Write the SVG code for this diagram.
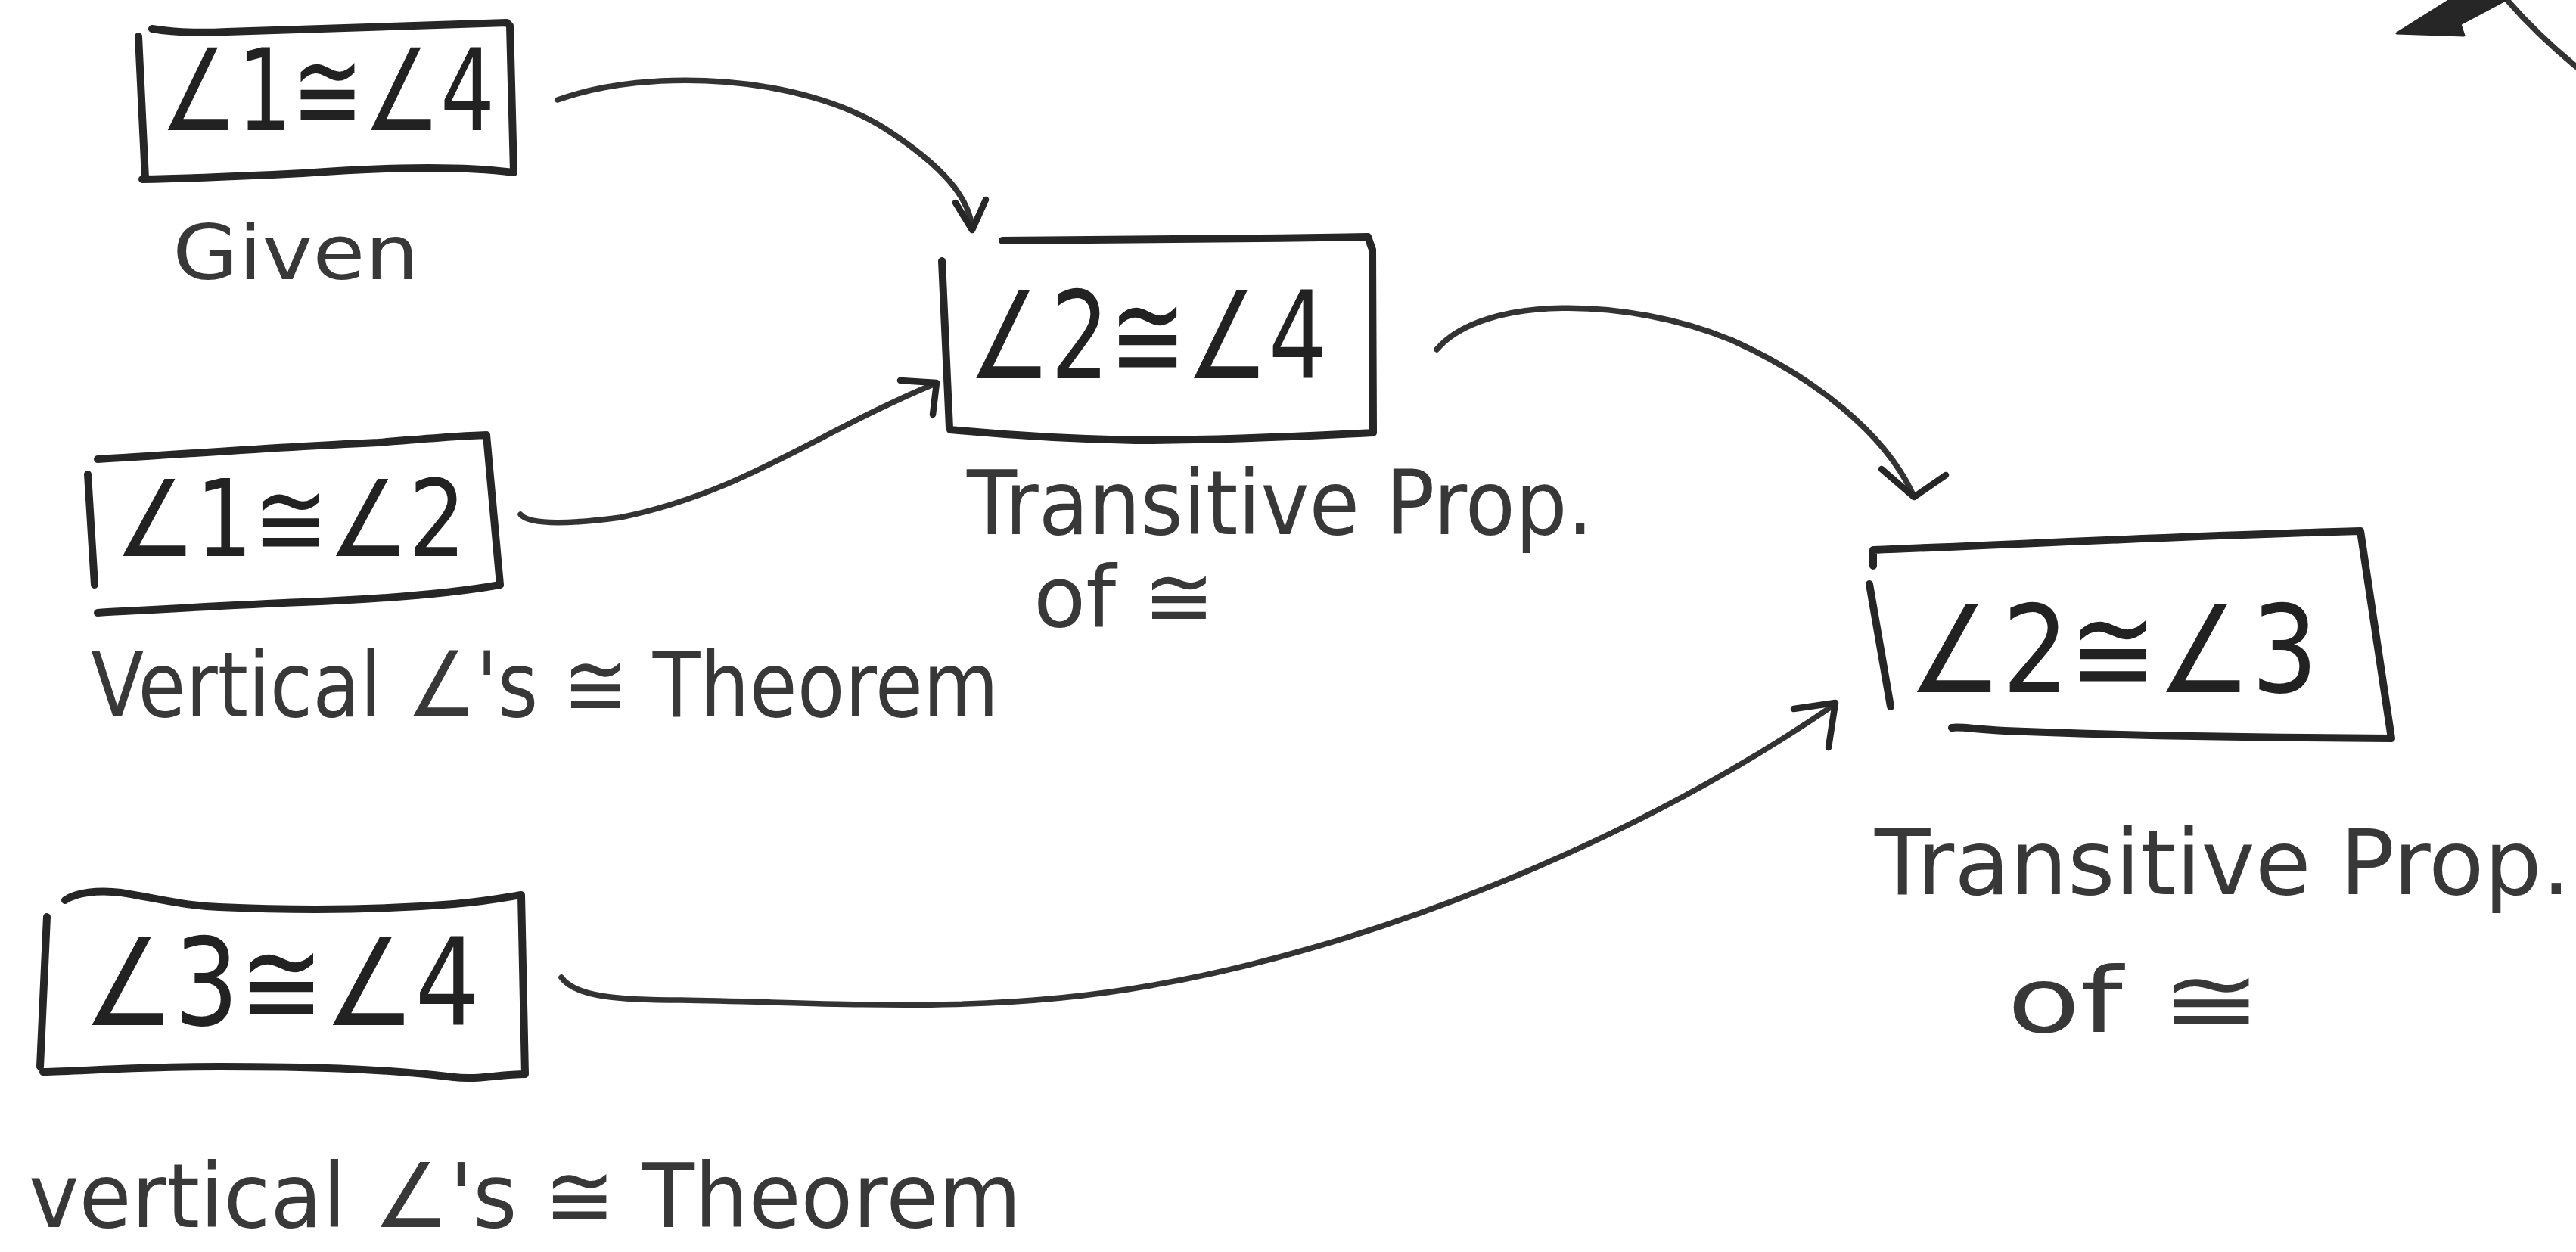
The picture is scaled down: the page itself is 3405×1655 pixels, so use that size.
<svg xmlns="http://www.w3.org/2000/svg" width="3405" height="1655" viewBox="0 0 3405 1655">
<style>
  .box { fill: none; stroke: #262626; stroke-width: 10; stroke-linecap: round; stroke-linejoin: round; }
  .conn { fill: none; stroke: #333333; stroke-width: 7.5; stroke-linecap: round; stroke-linejoin: round; }
  .head { fill: none; stroke: #262626; stroke-width: 8.5; stroke-linecap: round; stroke-linejoin: round; }
  .stmt { font-family: "DejaVu Sans", "Liberation Sans", sans-serif; fill: #222222; }
  .lbl { font-family: "DejaVu Sans", "Liberation Sans", sans-serif; fill: #383838; }
</style>
<rect width="3405" height="1655" fill="#ffffff"/>

<g id="connectors">
  <path class="conn" d="M737,132 C 860,88 1060,100 1170,170 C 1250,222 1280,262 1285,300"/>
  <path class="head" d="M1263,268 L1285,304 L1303,264"/>

  <path class="conn" d="M688,680 C 700,695 760,692 820,684 C 980,652 1080,572 1234,508"/>
  <path class="head" d="M1190,503 L1238,506 L1233,548"/>

  <path class="conn" d="M1899,462 C 1960,390 2150,392 2290,450 C 2400,500 2490,572 2528,652"/>
  <path class="head" d="M2487,620 L2530,657 L2572,628"/>

  <path class="conn" d="M742,1292 C 760,1318 820,1322 900,1322 C 1100,1325 1300,1342 1520,1303 C 1800,1255 2150,1120 2424,932"/>
  <path class="head" d="M2371,937 L2426,929 L2417,988"/>

  <path class="conn" d="M3314,0 Q 3352,44 3405,88"/>
  <polygon points="3168,44 3257,47 3252,32 3312,0 3238,0" fill="#262626" stroke="#262626" stroke-width="3" stroke-linejoin="round"/>
</g>

<g id="node-1-4">
  <path class="box" d="M201,38 C 230,43 260,44 300,42 C 400,38 520,36 670,30 L674,34 L679,228 C 600,218 500,222 400,229 C 300,234 240,236 188,237 M183,48 L192,236"/>
  <text class="stmt" x="212" y="172" font-size="150" textLength="442" lengthAdjust="spacingAndGlyphs">∠1≅∠4</text>
  <text class="lbl" x="228" y="369" font-size="100" textLength="326" lengthAdjust="spacingAndGlyphs">Given</text>
</g>

<g id="node-2-4">
  <path class="box" d="M1325,318 C 1500,316 1650,316 1808,313 L1814,330 L1815,572 C 1700,578 1600,582 1500,582 C 1400,580 1320,574 1256,568 M1245,345 L1255,566"/>
  <text class="stmt" x="1280" y="500" font-size="160" textLength="474" lengthAdjust="spacingAndGlyphs">∠2≅∠4</text>
  <text class="lbl" x="1278" y="706" font-size="118" textLength="828" lengthAdjust="spacingAndGlyphs">Transitive Prop.</text>
  <text class="lbl" x="1366" y="828" font-size="112" textLength="240" lengthAdjust="spacingAndGlyphs">of ≅</text>
</g>

<g id="node-1-2">
  <path class="box" d="M129,607 C 250,600 380,590 500,585 C 560,580 610,576 643,575 L661,773 C 600,784 500,792 400,796 C 300,800 200,806 129,810 M116,627 L125,773"/>
  <text class="stmt" x="152" y="735" font-size="140" textLength="464" lengthAdjust="spacingAndGlyphs">∠1≅∠2</text>
  <text class="lbl" x="120" y="947" font-size="120" textLength="1200" lengthAdjust="spacingAndGlyphs">Vertical ∠'s ≅ Theorem</text>
</g>

<g id="node-2-3">
  <path class="box" d="M2476,748 L2476,727 C 2700,718 2900,708 3120,702 L3161,976 C 3000,975 2800,972 2650,966 C 2610,964 2590,960 2580,962 M2499,934 L2471,772"/>
  <text class="stmt" x="2522" y="915" font-size="160" textLength="542" lengthAdjust="spacingAndGlyphs">∠2≅∠3</text>
  <text class="lbl" x="2478" y="1182" font-size="120" textLength="920" lengthAdjust="spacingAndGlyphs">Transitive Prop.</text>
  <text class="lbl" x="2653" y="1364" font-size="120" textLength="336" lengthAdjust="spacingAndGlyphs">of ≅</text>
</g>

<g id="node-3-4">
  <path class="box" d="M86,1190 C 100,1180 130,1176 160,1180 C 200,1186 240,1197 290,1199 C 400,1204 500,1203 600,1195 C 640,1192 670,1186 689,1183 L694,1420 C 660,1420 630,1428 600,1424 C 500,1412 400,1410 290,1410 C 200,1410 120,1415 57,1417 M62,1212 L53,1410"/>
  <text class="stmt" x="110" y="1355" font-size="160" textLength="524" lengthAdjust="spacingAndGlyphs">∠3≅∠4</text>
  <text class="lbl" x="38" y="1622" font-size="118" textLength="1312" lengthAdjust="spacingAndGlyphs">vertical ∠'s ≅ Theorem</text>
</g>
</svg>
